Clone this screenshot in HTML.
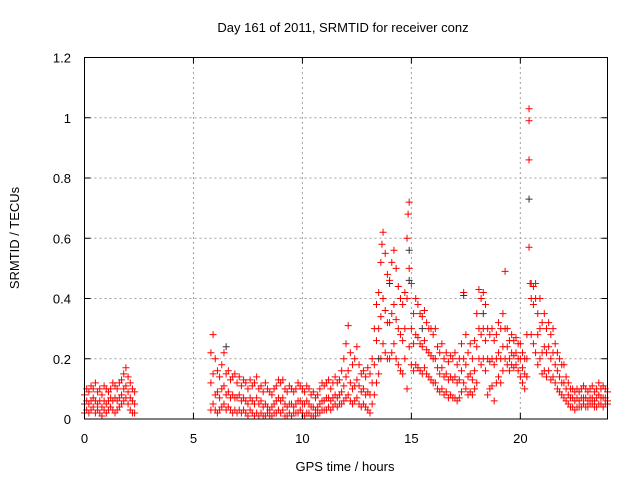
<!DOCTYPE html>
<html><head><meta charset="utf-8"><style>
body{margin:0;background:#fff;}
svg text{font-family:"Liberation Sans",sans-serif;font-size:13px;fill:#000;}
</style></head><body>
<svg id="chart" width="640" height="480" viewBox="0 0 640 480" xmlns="http://www.w3.org/2000/svg">
<rect width="640" height="480" fill="#fff"/>
<g id="grid"></g>
<g id="marks"></g>
<rect x="84.5" y="57.5" width="523" height="361.5" fill="none" stroke="#000" stroke-width="1"/>
<g id="axes"></g>
<text x="343" y="32" text-anchor="middle">Day 161 of 2011, SRMTID for receiver conz</text>
<text x="345" y="471" text-anchor="middle">GPS time / hours</text>
<text transform="translate(19,238) rotate(-90)" text-anchor="middle">SRMTID / TECUs</text>
</svg>
<script>
const xTicks=[0,5,10,15,20];
const yTicks=[0,0.2,0.4,0.6,0.8,1,1.2];
const yTickLabels=["0","0.2","0.4","0.6","0.8","1","1.2"];
const segStarts=[0.0,5.8];
const seg1Hi=[.08,.1,.09,.11,.1,.12,.09,.1,.08,.11,.1,.09,.1,.12,.11,.1,.12,.13,.15,.17,.14,.12,.1,.09];
const seg1Mid=[.05,.06,.05,.06,.07,.06,.05,.06,.04,.06,.05,.06,.07,.06,.07,.06,.07,.08,.1,.11,.09,.07,.06,.05];
const seg1Lo=[.02,.03,.02,.03,.04,.02,.03,.02,.01,.03,.02,.03,.04,.03,.02,.03,.04,.05,.06,.07,.05,.03,.02,.02];
const seg2Hi=[.22,.28,
.2,.16,.14,.18,.22,.15,.16,.13,.14,.15,
.12,.14,.11,.13,.12,.1,.13,.11,.12,.14,
.1,.11,.09,.12,.1,.09,.08,.1,.11,.13,
.12,.13,.1,.09,.11,.1,.09,.1,.12,.11,
.1,.09,.11,.1,.08,.09,.07,.08,.1,.12,
.11,.12,.13,.1,.12,.14,.12,.13,.16,.2,
.25,.31,.22,.18,.2,.24,.18,.15,.16,.14,
.17,.15,.2,.3,.38,.42,.52,.62,.55,.48,
.46,.52,.56,.5,.44,.4,.38,.42,.6,.72,
.45,.35,.4,.38,.35,.34,.36,.32,.3,.3,
.28,.3,.24,.22,.25,.2,.22,.19,.21,.2,
.22,.18,.2,.25,.42,.28,.22,.25,.2,.26,
.35,.43,.4,.42,.38,.3,.28,.3,.26,.28,
.32,.3,.35,.49,.3,.26,.28,.26,.27,.25,
.25,.22,.2,.28,1.03,.45,.44,.45,.35,.4,
.32,.35,.3,.32,.28,.3,.25,.22,.2,.18,
.18,.14,.12,.1,.1,.09,.1,.09,.1,.11,
.1,.09,.1,.11,.09,.1,.12,.1,.11,.1,.09];
const seg2Mid=[.12,.15,
.08,.09,.07,.1,.11,.08,.09,.07,.08,.07,
.07,.08,.06,.07,.06,.05,.07,.06,.05,.07,
.05,.06,.04,.05,.04,.03,.04,.05,.06,.07,
.06,.07,.05,.04,.05,.05,.04,.05,.06,.06,
.05,.05,.06,.05,.04,.04,.03,.04,.05,.06,
.06,.07,.07,.06,.07,.08,.07,.08,.09,.11,
.14,.16,.12,.1,.11,.13,.11,.09,.1,.08,
.09,.08,.12,.18,.26,.3,.34,.4,.36,.32,
.32,.35,.38,.33,.3,.28,.26,.3,.4,.5,
.3,.25,.28,.27,.25,.24,.26,.23,.22,.21,
.2,.2,.17,.15,.17,.14,.15,.13,.14,.13,
.14,.12,.13,.16,.2,.18,.14,.15,.13,.16,
.24,.3,.28,.3,.26,.2,.19,.2,.18,.2,
.22,.2,.24,.3,.24,.2,.22,.21,.22,.2,
.2,.17,.15,.2,.86,.4,.38,.4,.28,.3,
.22,.24,.22,.24,.2,.22,.18,.16,.14,.12,
.12,.1,.08,.07,.07,.06,.07,.06,.07,.07,
.07,.06,.07,.07,.06,.07,.08,.07,.07,.07,.06];
const seg2Lo=[.03,.05,
.03,.02,.03,.04,.05,.03,.04,.03,.02,.03,
.02,.03,.02,.03,.02,.01,.03,.02,.01,.02,
.01,.02,.01,.01,.02,.01,.01,.02,.02,.03,
.02,.03,.01,.01,.02,.01,.02,.02,.02,.03,
.02,.01,.02,.02,.01,.01,.01,.02,.02,.03,
.03,.03,.04,.03,.04,.05,.04,.05,.05,.06,
.07,.08,.06,.05,.06,.07,.05,.04,.05,.04,
.03,.02,.05,.08,.12,.15,.2,.25,.22,.2,
.2,.22,.25,.2,.18,.16,.15,.2,.1,.24,
.18,.16,.18,.17,.16,.15,.17,.15,.14,.13,
.12,.12,.1,.09,.1,.08,.09,.07,.08,.07,
.07,.06,.07,.09,.12,.1,.08,.09,.08,.1,
.12,.2,.18,.2,.16,.08,.1,.11,.06,.12,
.14,.12,.16,.2,.18,.16,.18,.17,.18,.16,
.14,.12,.1,.14,.57,.28,.25,.22,.18,.2,
.15,.16,.14,.16,.13,.14,.12,.1,.09,.08,
.07,.06,.05,.04,.04,.03,.04,.04,.04,.05,
.04,.04,.05,.05,.04,.04,.05,.05,.04,.05,.05];
const extraTimes=[20.4,20.45,14.85,13.65];
const extraVals=[0.99,0.45,0.68,0.58];
const blackTimes=[14.9,14.9,20.4,17.4,6.5,14.0,15.5,13.5,18.3];
const blackVals=[0.56,0.46,0.73,0.41,0.24,0.45,0.3,0.2,0.35];

const X0=84.5,X1=607.5,Y0=419,Y1=57.5;
const xs=t=>X0+(t/24)*(X1-X0);
const ys=v=>Y0-(v/1.2)*(Y0-Y1);
const NS="http://www.w3.org/2000/svg";
const grid=document.getElementById('grid'),axes=document.getElementById('axes'),marks=document.getElementById('marks');
function mk(tag,attrs,parent){const e=document.createElementNS(NS,tag);for(const k in attrs)e.setAttribute(k,attrs[k]);parent.appendChild(e);return e;}
xTicks.forEach(t=>{
  const x=xs(t);
  if(t>0){const g=mk('line',{x1:x,x2:x,y1:Y0,y2:Y1,stroke:'#a0a0a0','stroke-dasharray':'2,3'},grid);
  
  }
  mk('line',{x1:x,x2:x,y1:Y0,y2:Y0-6,stroke:'#000'},axes);
  mk('line',{x1:x,x2:x,y1:Y1,y2:Y1+6,stroke:'#000'},axes);
  const tx=mk('text',{x:x,y:443,'text-anchor':'middle'},axes);tx.textContent=String(t);
  
  
});
yTicks.forEach((v,i)=>{
  const y=ys(v);
  if(v>0&&v<1.2){const g=mk('line',{x1:X0,x2:X1,y1:y,y2:y,stroke:'#a0a0a0','stroke-dasharray':'2,3'},grid);
  
  }
  mk('line',{x1:X0,x2:X0+6,y1:y,y2:y,stroke:'#000'},axes);
  mk('line',{x1:X1,x2:X1-6,y1:y,y2:y,stroke:'#000'},axes);
  const tx=mk('text',{x:71,y:y+5,'text-anchor':'end'},axes);tx.textContent=yTickLabels[i];
  
  
});
function plus(t,v,col,name){
  const x=xs(t),y=ys(v);
  const p=mk('path',{d:`M${x-3.5},${y}H${x+3.5}M${x},${y-3.5}V${y+3.5}`,stroke:col,'stroke-width':1,fill:'none'},marks);
  
  
}
function drawSeg(start,arr){arr.forEach((v,i)=>plus(start+i*0.1,v,'#ff0000','srmtid-point'));}
[seg1Hi,seg1Mid,seg1Lo].forEach(a=>drawSeg(segStarts[0],a));
[seg2Hi,seg2Mid,seg2Lo].forEach(a=>drawSeg(segStarts[1],a));
extraTimes.forEach((t,i)=>plus(t,extraVals[i],'#ff0000','srmtid-point'));
blackTimes.forEach((t,i)=>plus(t,blackVals[i],'#333333','srmtid-point-alt'));
</script>
</body></html>
